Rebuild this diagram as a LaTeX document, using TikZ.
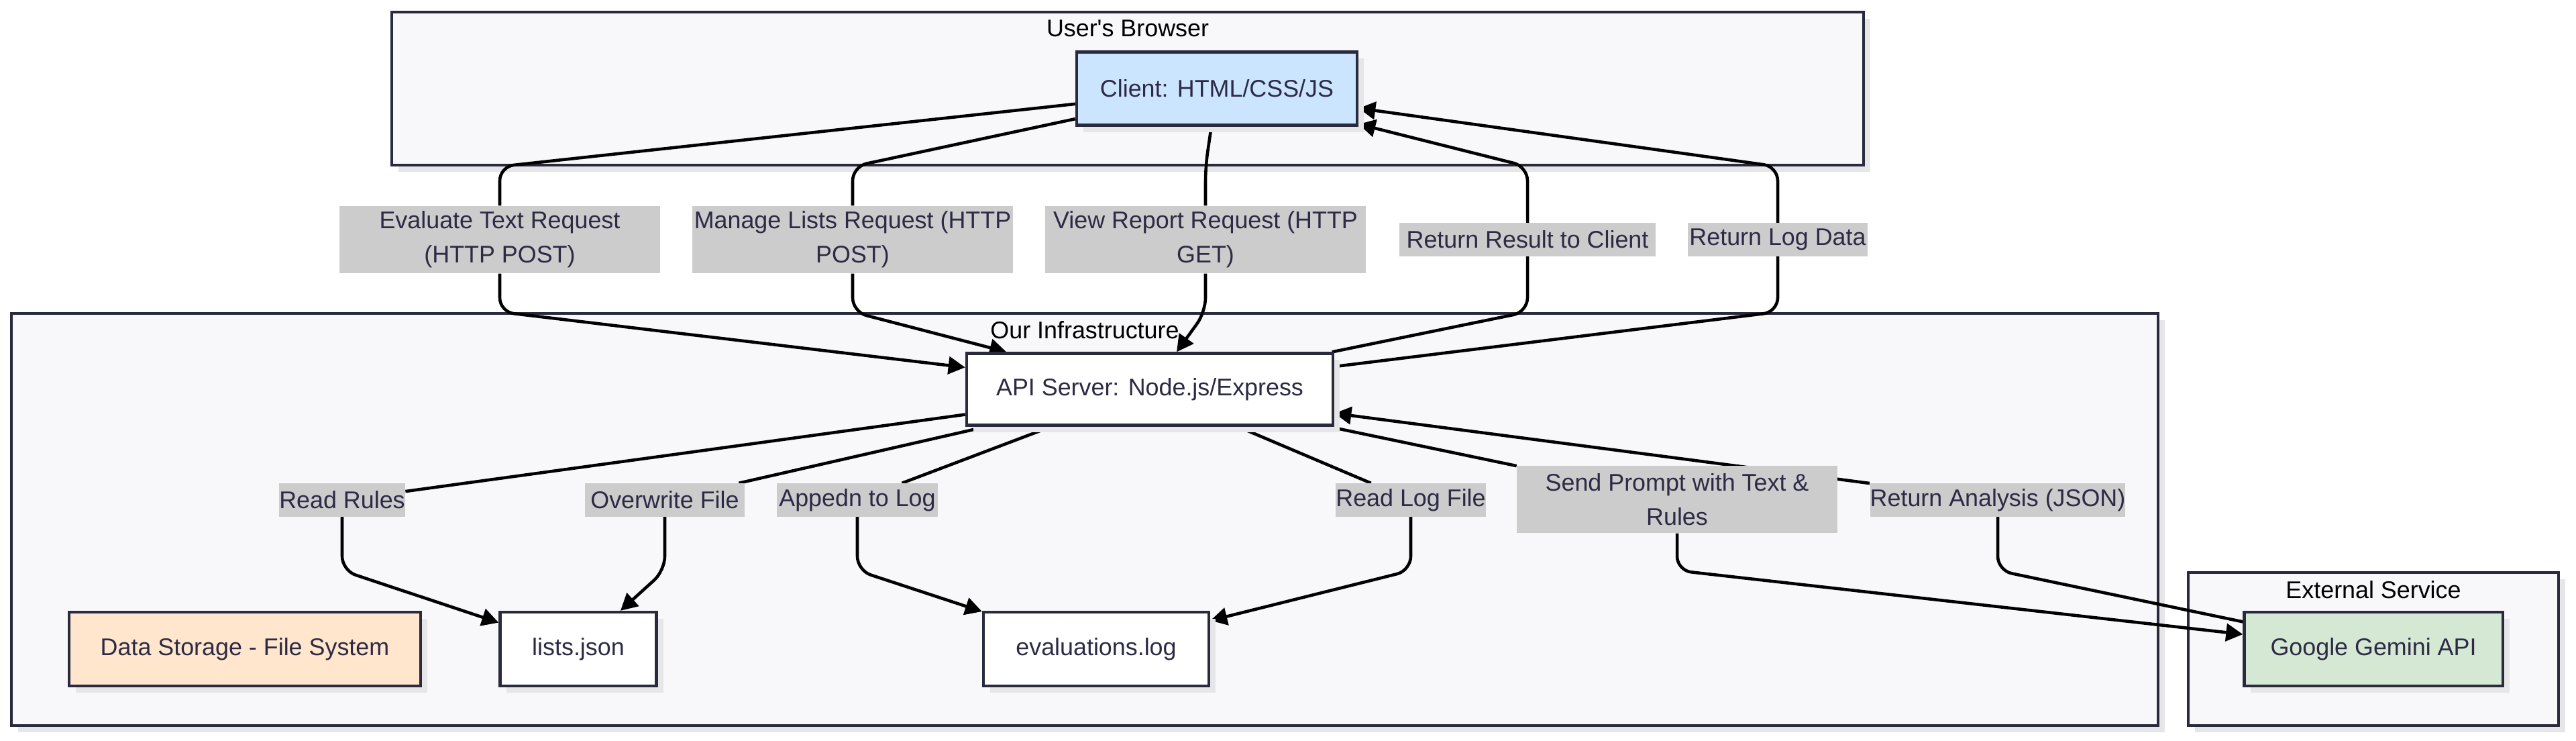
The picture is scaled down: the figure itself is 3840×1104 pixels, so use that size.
\documentclass[tikz,border=0pt]{standalone}
\usepackage{fontspec}
\setmainfont{Liberation Sans}
\usepackage{tikz}
\usetikzlibrary{calc,positioning,arrows.meta,shadows}
\usepackage{xcolor}
\definecolor{myframe}{RGB}{42,42,62}
\definecolor{myink}{RGB}{44,42,68}
\definecolor{mygroup}{RGB}{248,248,250}
\definecolor{myshade}{RGB}{230,230,232}
\definecolor{myblue}{RGB}{204,229,255}
\definecolor{mypeach}{RGB}{255,230,204}
\definecolor{mygreen}{RGB}{213,232,212}
\definecolor{mygrey}{RGB}{204,204,204}
\pgfdeclarelayer{back}
\pgfdeclarelayer{wires}
\pgfsetlayers{back,wires,main}

\begin{document}
\begin{tikzpicture}[x=0.01cm, y=-0.01cm,
  font=\fontsize{10.2}{14.5}\selectfont,
  group/.style={draw=myframe, line width=1.2pt, fill=mygroup, inner sep=0pt,
    drop shadow={shadow xshift=0.1cm, shadow yshift=-0.1cm, fill=myshade, opacity=1}},
  grouptitle/.style={text=black, inner sep=0pt},
  box/.style={draw=myframe, line width=1.2pt, fill=white, text=myink, inner sep=0pt,
    minimum height=1.1cm,
    drop shadow={shadow xshift=0.1cm, shadow yshift=-0.1cm, fill=myshade, opacity=1}},
  tag/.style={fill=mygrey, text=myink, inner sep=0pt, align=center, minimum height=0.49cm},
  wire/.style={line width=1.3pt, rounded corners=6pt},
  arrow/.style={wire, -{Triangle[length=0.25cm,width=0.26cm]}}]

  \useasboundingbox (0,0) rectangle (3840,1104);

  % Groups
  \begin{pgfonlayer}{back}
    \node[group, minimum width=21.92cm, minimum height=2.28cm] (browser) at (1681,132) {};
    \node[grouptitle] (tBrowser) at (1681,42) {User\textquotesingle s Browser};
    \node[group, minimum width=31.98cm, minimum height=6.14cm] (infra) at (1617,774) {};
    \node[grouptitle] (tInfra) at (1617,492) {Our Infrastructure};
    \node[group, minimum width=5.52cm, minimum height=2.28cm] (external) at (3538,967) {};
    \node[grouptitle] (tExternal) at (3538,879) {External Service};
  \end{pgfonlayer}

  % Components
  \node[box, fill=myblue, minimum width=4.18cm, minimum height=1.09cm] (client) at (1814,132) {Client: HTML/CSS/JS};
  \node[box, minimum width=5.46cm, minimum height=1.07cm] (api) at (1714,580) {API Server: Node.js/Express};
  \node[box, fill=mypeach, minimum width=5.24cm] (storage) at (365,967) {Data Storage - File System};
  \node[box, minimum width=2.33cm] (lists) at (862,967) {lists.json};
  \node[box, minimum width=3.36cm] (evlog) at (1634,967) {evaluations.log};
  \node[box, fill=mygreen, minimum width=3.85cm] (gemini) at (3538,967) {Google Gemini API};

  % Edge labels
  \node[tag, minimum width=4.78cm, minimum height=1.0cm] (lEval) at (745,357) {Evaluate Text Request\\(HTTP POST)};
  \node[tag, minimum width=4.78cm, minimum height=1.0cm] (lManage) at (1271,357) {Manage Lists Request (HTTP\\POST)};
  \node[tag, minimum width=4.78cm, minimum height=1.0cm] (lView) at (1797,357) {View Report Request (HTTP\\GET)};
  \node[tag, minimum width=3.82cm] (lResult) at (2277,357) {Return Result to Client};
  \node[tag, minimum width=2.67cm] (lLog) at (2650,357) {Return Log Data};
  \node[tag, minimum width=1.80cm] (lRules) at (510,745) {Read Rules};
  \node[tag, minimum width=2.38cm] (lOver) at (991,745) {Overwrite File};
  \node[tag, minimum width=2.39cm] (lAppend) at (1278,745) {Appedn to Log};
  \node[tag, minimum width=2.19cm] (lReadLog) at (2103,745) {Read Log File};
  \node[tag, minimum width=4.77cm, minimum height=1.0cm] (lSend) at (2500,744) {Send Prompt with Text \&\\Rules};
  \node[tag, minimum width=3.80cm] (lAnalysis) at (2978,745) {Return Analysis (JSON)};

  \coordinate (lowbend) at (0,850);

  \begin{pgfonlayer}{wires}
    % Browser to server
    \draw[wire] (client) -- (lEval |- browser.south) -- (lEval);
    \draw[arrow] (lEval) -- (lEval |- infra.north) -- (api);
    \draw[wire] (client) -- (lManage |- browser.south) -- (lManage);
    \draw[arrow] (lManage) -- (lManage |- infra.north) -- (api);
    \draw[wire] (client) -- (lView |- browser.south) -- (lView);
    \draw[arrow] (lView) -- (lView |- infra.north) -- (api);

    % Server back to browser
    \draw[wire] (api) -- (lResult |- infra.north) -- (lResult);
    \draw[arrow] (lResult) -- (lResult |- browser.south) -- (client);
    \draw[wire] (api) -- (lLog |- infra.north) -- (lLog);
    \draw[arrow] (lLog) -- (lLog |- browser.south) -- (client);

    % File system
    \draw[wire] (api) -- (lRules);
    \draw[arrow] (lRules) -- (lRules |- lowbend) -- (lists);
    \draw[wire] (api) -- (lOver);
    \draw[arrow] (lOver) -- (lOver |- lowbend) -- (lists);
    \draw[wire] (api) -- (lAppend);
    \draw[arrow] (lAppend) -- (lAppend |- lowbend) -- (evlog);
    \draw[wire] (api) -- (lReadLog);
    \draw[arrow] (lReadLog) -- (lReadLog |- lowbend) -- (evlog);

    % External service
    \draw[wire] (api) -- (lSend);
    \draw[arrow] (lSend) -- (lSend |- lowbend) -- (gemini);
    \draw[wire] (gemini) -- (lAnalysis |- lowbend) -- (lAnalysis);
    \draw[arrow] (lAnalysis) -- (api);
  \end{pgfonlayer}
\end{tikzpicture}
\end{document}
